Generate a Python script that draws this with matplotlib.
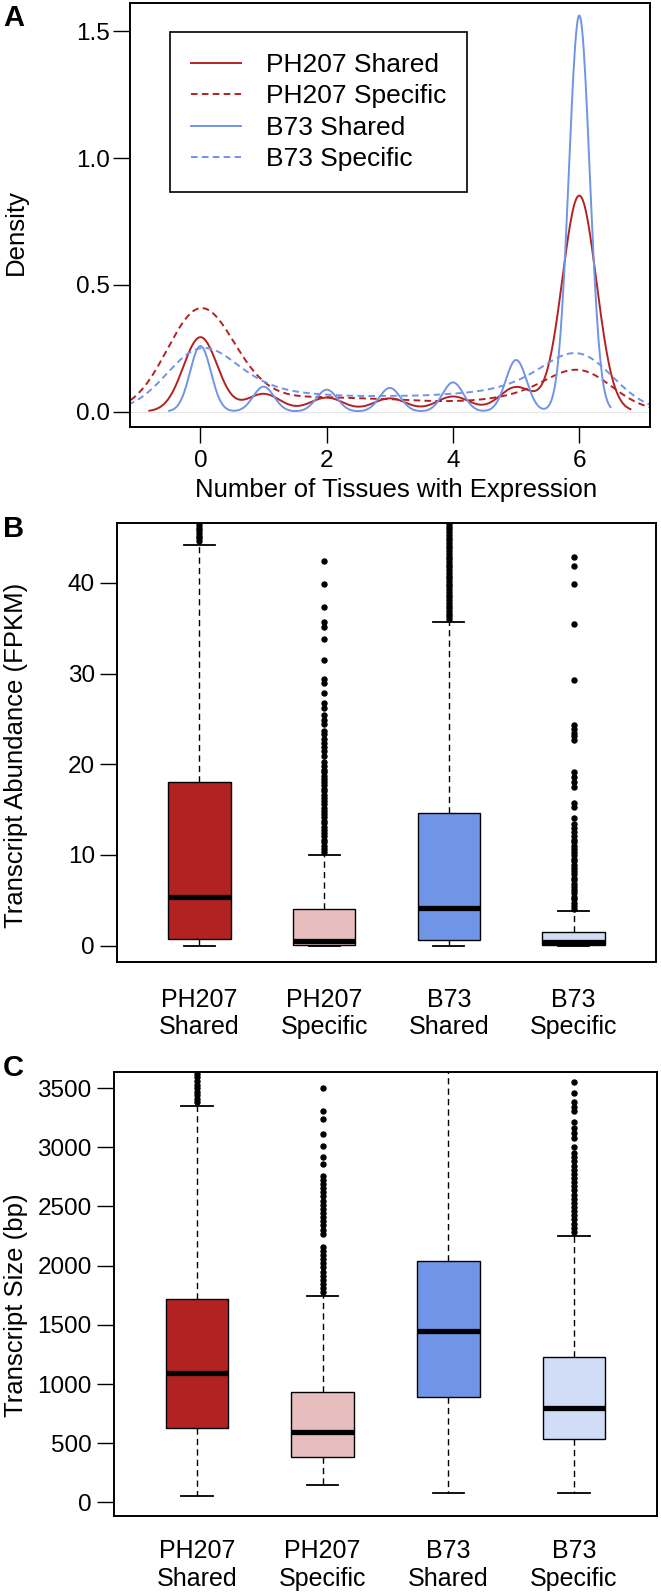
import numpy as np
import matplotlib.pyplot as plt

plt.rcParams['font.family'] = ['Liberation Sans', 'DejaVu Sans']

W, H = 661, 1595

# panel A: share of transcripts expressed in 0..6 tissues + KDE bandwidth
tissues = np.arange(7)
ph207_shared_frac = [0.198, 0.047, 0.037, 0.035, 0.040, 0.065, 0.575]
ph207_specific_frac = [0.544, 0.060, 0.058, 0.050, 0.038, 0.059, 0.213]
b73_shared_frac = [0.108, 0.041, 0.036, 0.039, 0.048, 0.085, 0.653]
b73_specific_frac = [0.338, 0.092, 0.065, 0.062, 0.069, 0.100, 0.307]
bandwidths = [0.27, 0.53, 0.165, 0.55]
series_names = ["PH207 Shared", "PH207 Specific", "B73 Shared", "B73 Specific"]

# panels B and C: box statistics
groups = ["PH207\nShared", "PH207\nSpecific", "B73\nShared", "B73\nSpecific"]

fpkm_q1 = [0.7, 0.1, 0.58, 0.05]
fpkm_med = [5.4, 0.55, 4.2, 0.35]
fpkm_q3 = [18.1, 4.07, 14.6, 1.5]
fpkm_lo = [0.0, 0.0, 0.0, 0.0]
fpkm_hi = [44.2, 10.0, 35.7, 3.8]
fpkm_out_ph207_shared = [44.6, 44.9, 45.2, 45.5, 45.8, 46.1, 46.4, 46.7, 47.0]
fpkm_out_ph207_specific = [42.4, 39.9, 37.3, 35.7, 35.1, 33.8, 31.5, 29.4, 29.0, 27.9, 26.8,
                           26.2, 25.4, 24.9, 24.4, 23.7, 23.3, 22.8, 22.3, 21.9, 21.5, 20.9,
                           20.3, 19.8, 19.4, 19.1, 18.7, 18.4, 18.0, 17.7, 17.3, 17.0, 16.6,
                           16.3, 15.9, 15.6, 15.2, 14.9, 14.5, 14.2, 13.8, 13.5, 13.1, 12.8,
                           12.4, 12.1, 11.7, 11.4, 11.0, 10.7, 10.3]
fpkm_out_b73_shared = [36.0, 36.3, 36.6, 36.9, 37.2, 37.5, 37.8, 38.1, 38.4, 38.7, 39.0, 39.3,
                       39.6, 39.9, 40.2, 40.5, 40.8, 41.1, 41.4, 41.7, 42.0, 42.3, 42.6, 42.9,
                       43.2, 43.5, 43.8, 44.1, 44.4, 44.7, 45.0, 45.3, 45.6, 45.9, 46.2, 46.5,
                       46.8]
fpkm_out_b73_specific = [42.8, 41.9, 39.9, 35.5, 29.3, 24.3, 23.9, 23.5, 23.1, 22.7, 19.1, 18.6,
                         18.1, 17.5, 15.7, 15.3, 14.1, 13.4, 13.0, 12.5, 12.1, 11.7, 11.4, 11.0,
                         10.7, 10.3, 10.0, 9.6, 9.3, 8.9, 8.6, 8.2, 7.9, 7.5, 7.2, 6.8, 6.5,
                         6.1, 5.8, 5.4, 5.1, 4.7, 4.4, 4.0]

size_q1 = [630, 384, 891, 539]
size_med = [1096, 591, 1449, 795]
size_q3 = [1719, 931, 2037, 1232]
size_lo = [52, 149, 82, 82]
size_hi = [3352, 1743, 3720, 2248]
size_out_ph207_shared = [3380, 3410, 3440, 3470, 3500, 3530, 3560, 3590, 3620, 3650, 3680, 3710]
size_out_ph207_specific = [3503, 3307, 3240, 3112, 3013, 2920, 2856, 2760, 2725, 2690, 2655,
                           2620, 2585, 2550, 2515, 2480, 2445, 2410, 2375, 2340, 2305, 2270,
                           2160, 2125, 2090, 2055, 2020, 1985, 1950, 1915, 1880, 1845, 1810,
                           1775]
size_out_b73_shared = []
size_out_b73_specific = [3553, 3457, 3382, 3340, 3307, 3216, 3160, 3121, 3080, 3006, 2950, 2915,
                         2880, 2845, 2810, 2775, 2740, 2705, 2670, 2635, 2600, 2565, 2530,
                         2495, 2460, 2425, 2390, 2355, 2320, 2285]

red = "#B22222"
pink = "#E8BDBD"
blue = "#7094E6"
lightblue = "#D1DCF7"
box_colors = [red, pink, blue, lightblue]

fig = plt.figure(figsize=(W / 100, H / 100), dpi=100)


def px_axes(left, top, right, bottom):
    return fig.add_axes([left / W, 1 - bottom / H, (right - left) / W, (bottom - top) / H])


def density(frac, bw):
    w = np.asarray(frac, dtype=float)
    w = w / w.sum()
    xs = np.linspace(tissues.min() - 3 * bw, tissues.max() + 3 * bw, 512)
    k = np.exp(-0.5 * ((xs[None, :] - tissues[:, None]) / bw) ** 2)
    return xs, (w[:, None] * k).sum(axis=0) / (bw * np.sqrt(2 * np.pi))


# ---------------- A ----------------
axA = px_axes(130, 3, 650, 427)
axA.axhline(0, color="#E6E6E6", lw=0.8, zorder=0)
fracs = [ph207_shared_frac, ph207_specific_frac, b73_shared_frac, b73_specific_frac]
line_colors = [red, red, blue, blue]
styles = ["-", (0, (3.4, 2.2)), "-", (0, (3.4, 2.2))]
for frac, bw, c, ls, name in zip(fracs, bandwidths, line_colors, styles, series_names):
    xs, ys = density(frac, bw)
    axA.plot(xs, ys, color=c, ls=ls, lw=1.4, label=name)
axA.set_xlim(-1.116, 7.12)
axA.set_ylim(-0.061, 1.612)
axA.set_xticks([0, 2, 4, 6])
axA.set_yticks([0.0, 0.5, 1.0, 1.5])
axA.set_yticklabels(["0.0", "0.5", "1.0", "1.5"])
axA.tick_params(axis="x", length=11.2, width=1.0, pad=5.5, labelsize=17.5)
axA.tick_params(axis="y", length=12.2, width=1.0, pad=2.2, labelsize=17.5)
leg = axA.legend(loc="upper left", bbox_to_anchor=(169.5 / W, 1 - 32 / H),
                 bbox_transform=fig.transFigure, borderaxespad=0, fancybox=False,
                 framealpha=1, edgecolor="black", fontsize=19, handlelength=1.9,
                 handletextpad=0.95, labelspacing=0.28, borderpad=0.8)
leg.get_frame().set_linewidth(1.2)
fig.text(396 / W, 1 - 497 / H, "Number of Tissues with Expression", ha="center",
         va="baseline", fontsize=18.5)
fig.text(16 / W, 1 - 232 / H, "Density", rotation=90, ha="center", va="center", fontsize=18.5)


# ---------------- B and C ----------------
def boxpanel(ax, q1, med, q3, lo, hi, outs, ylim, yticks, pad):
    stats = []
    for i in range(4):
        stats.append(dict(q1=q1[i], med=med[i], q3=q3[i], whislo=lo[i], whishi=hi[i],
                          fliers=outs[i]))
    art = ax.bxp(stats, positions=[1, 2, 3, 4], widths=0.5, capwidths=0.25,
                 patch_artist=True, showfliers=True,
                 boxprops=dict(linewidth=1.0, edgecolor="black"),
                 medianprops=dict(color="black", linewidth=3.8, solid_capstyle="butt"),
                 whiskerprops=dict(color="black", linewidth=1.0, linestyle=(0, (4.5, 3))),
                 capprops=dict(color="black", linewidth=1.3),
                 flierprops=dict(marker="o", markersize=3.6, markerfacecolor="black",
                                 markeredgecolor="black", linestyle="none"))
    for patch, c in zip(art["boxes"], box_colors):
        patch.set_facecolor(c)
    ax.set_xlim(0.34, 4.66)
    ax.set_ylim(*ylim)
    ax.set_yticks(yticks)
    ax.set_xticks([1, 2, 3, 4])
    ax.set_xticklabels(groups, fontsize=18, linespacing=1.2)
    ax.tick_params(axis="x", length=0, pad=pad)
    ax.tick_params(axis="y", length=12.4, width=1.0, pad=3.6, labelsize=17.5)


axB = px_axes(117, 523, 656, 962)
boxpanel(axB, fpkm_q1, fpkm_med, fpkm_q3, fpkm_lo, fpkm_hi,
         [fpkm_out_ph207_shared, fpkm_out_ph207_specific, fpkm_out_b73_shared,
          fpkm_out_b73_specific],
         (-1.8, 46.6), [0, 10, 20, 30, 40], 18.5)
fig.text(16 / W, 1 - 755 / H, "Transcript Abundance (FPKM)", rotation=90, ha="center",
         va="center", fontsize=18.5)

axC = px_axes(114, 1072, 657, 1516)
boxpanel(axC, size_q1, size_med, size_q3, size_lo, size_hi,
         [size_out_ph207_shared, size_out_ph207_specific, size_out_b73_shared,
          size_out_b73_specific],
         (-115, 3636), list(range(0, 3501, 500)), 16.5)
fig.text(16 / W, 1 - 1305 / H, "Transcript Size (bp)", rotation=90, ha="center",
         va="center", fontsize=18.5)

for ax in (axA, axB, axC):
    for s in ax.spines.values():
        s.set_linewidth(1.4)

for letter, top in (("A", 3.5), ("B", 515), ("C", 1054)):
    fig.text(3 / W, 1 - top / H, letter, fontsize=21, fontweight="bold", ha="left", va="top")

fig.savefig("out.png", dpi=100, facecolor="white")
